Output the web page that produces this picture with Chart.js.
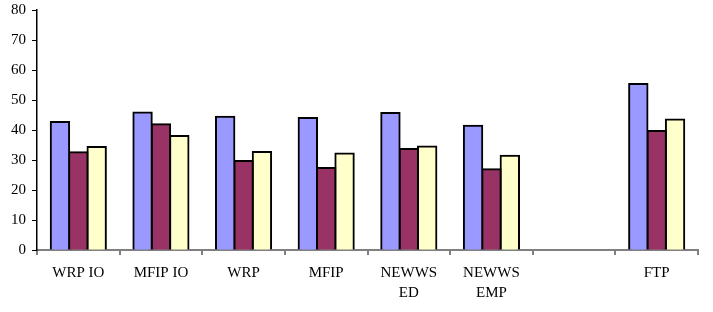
<!DOCTYPE html>
<html>
<head>
<meta charset="utf-8">
<script src="https://cdn.jsdelivr.net/npm/chart.js@4"></script>
<style>
  html, body { margin: 0; padding: 0; background: #fff; }
  #wrap { width: 713px; height: 312px; }
</style>
</head>
<body>
<div id="wrap"><canvas id="chart"></canvas></div>
<script>
const categories = ["WRP IO", "MFIP IO", "WRP", "MFIP", ["NEWWS", "ED"], ["NEWWS", "EMP"], "", "FTP"];
const seriesA = [42.7, 45.8, 44.4, 44.0, 45.7, 41.4, null, 55.3];
const seriesB = [32.6, 41.9, 29.7, 27.3, 33.7, 26.9, null, 39.7];
const seriesC = [34.3, 38.0, 32.7, 32.2, 34.5, 31.4, null, 43.5];
const yTicks = [0, 10, 20, 30, 40, 50, 60, 70, 80];

const font = { family: "'Liberation Serif', 'DejaVu Serif', serif", size: 15 };

const ctx = document.getElementById('chart').getContext('2d');

new Chart(ctx, {
    type: 'bar',
    data: {
        labels: categories,
        datasets: [
            { data: seriesA, backgroundColor: '#9999FF' },
            { data: seriesB, backgroundColor: '#993366' },
            { data: seriesC, backgroundColor: '#FFFFCC' }
        ].map(d => Object.assign(d, {
            borderColor: '#000',
            borderWidth: 2,
            inflateAmount: 1,
            barPercentage: 1,
            categoryPercentage: 0.667
        }))
    },
    options: {
        responsive: true,
        maintainAspectRatio: false,
        animation: false,
        layout: { padding: { top: 10, right: 15, left: 0, bottom: 0 } },
        plugins: { legend: { display: false }, tooltip: { enabled: false } },
        scales: {
            x: {
                grid: { offset: true, drawOnChartArea: false, drawTicks: true, tickLength: 5, color: '#808080', lineWidth: 2 },
                border: { color: '#808080', width: 2 },
                ticks: { color: '#000', font: Object.assign({ lineHeight: 1.33 }, font), padding: 8, maxRotation: 0, autoSkip: false },
                afterFit: (s) => { s.height = 62; s.paddingLeft = 0; s.paddingRight = 0; }
            },
            y: {
                min: 0,
                max: 80,
                afterBuildTicks: (s) => { s.ticks = yTicks.map(v => ({ value: v })); },
                grid: { drawOnChartArea: false, drawTicks: true, tickLength: 5, color: '#000' },
                border: { color: '#000', width: 1.5 },
                ticks: { color: '#000', font: font, padding: 6 },
                afterFit: (s) => { s.width = 37; s.paddingTop = 0; s.paddingBottom = 0; }
            }
        }
    }
});
</script>
</body>
</html>
